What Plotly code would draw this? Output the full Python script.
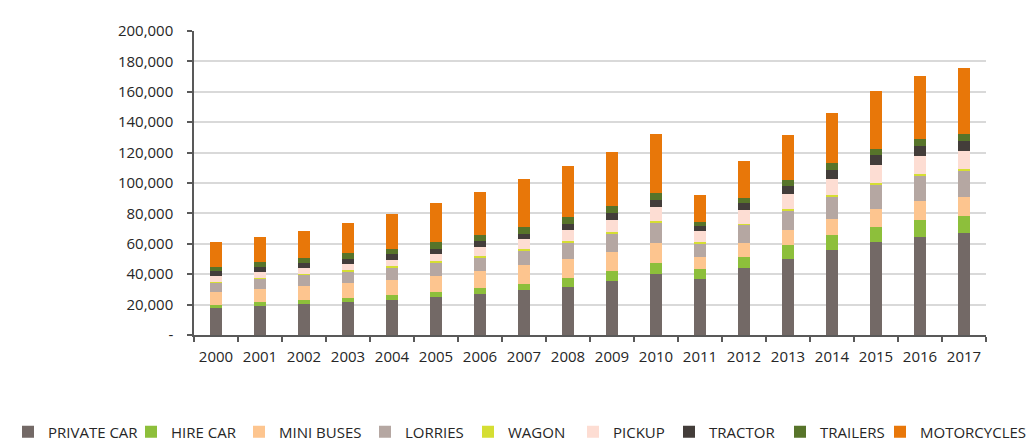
import plotly.graph_objects as go

# Registered vehicles by type, 2000-2017
years = [str(y) for y in range(2000, 2018)]

private_car = [17700, 19000, 20300, 21500, 22800, 24800, 26700, 29300, 31800,
               35700, 40200, 37000, 44200, 50000, 55800, 61000, 64200, 66800]
hire_car = [2300, 2500, 2700, 2800, 3700, 3800, 4000, 4500, 6000,
            6400, 7100, 6400, 6900, 9000, 9700, 10300, 11600, 11500]
mini_buses = [8200, 9000, 9300, 9700, 10000, 10500, 11400, 12000, 12000,
              12400, 13000, 7900, 9500, 9900, 10900, 11800, 12400, 12700]
lorries = [6400, 6500, 7200, 8100, 8000, 8800, 9200, 9800, 11000,
           12300, 13500, 8800, 11900, 13300, 14800, 16100, 16500, 17200]
wagon = [600, 600, 700, 700, 800, 800, 800, 800, 1000,
         1000, 1000, 800, 800, 1000, 1000, 1000, 1100, 1000]
pickup = [3300, 3700, 3700, 3600, 4300, 4800, 5900, 6800, 7100,
          7800, 9100, 7400, 8700, 9500, 10600, 11600, 12000, 12000]
tractor = [3400, 3200, 3400, 3400, 3600, 3400, 3600, 3400, 4300,
           4700, 4700, 3400, 4700, 5600, 5800, 6400, 6800, 6600]
trailers = [3000, 3400, 3200, 3900, 3700, 4300, 3900, 4500, 4500,
            4500, 5000, 2800, 3200, 3800, 4500, 3900, 4500, 4500]
motorcycles = [16300, 16900, 18200, 19700, 22500, 25500, 28900, 31500, 33400,
               35800, 38400, 17600, 24700, 29400, 33200, 38400, 41400, 43400]

series_names = ['PRIVATE CAR', 'HIRE CAR', 'MINI BUSES', 'LORRIES', 'WAGON',
                'PICKUP', 'TRACTOR', 'TRAILERS', 'MOTORCYCLES']
series_values = [private_car, hire_car, mini_buses, lorries, wagon,
                 pickup, tractor, trailers, motorcycles]

y_ticks = list(range(0, 200001, 20000))

# styling
colors = ['#736966', '#8DBF3B', '#FDC58F', '#B5A7A2', '#D5DE33',
          '#FDDDD3', '#433D3A', '#57742A', '#E87709']
FONT = 'Open Sans'
# the page body adds an 8px margin, so the figure is drawn 8px in from the window
W, H = 1020, 433
# where each legend label should start (px from the figure's left edge)
legend_text_px = [23, 164, 272, 398, 501, 606, 702, 813, 913]
LEGEND_TEXT_OFFSET = 41

fig = go.Figure()
legend_layouts = {}
for i, (name, vals, col) in enumerate(zip(series_names, series_values, colors)):
    key = 'legend' if i == 0 else f'legend{i + 1}'
    fig.add_trace(go.Bar(
        name=name,
        x=years,
        y=vals,
        marker_color=col,
        marker_line_width=0,
        legend=key,
        hovertemplate='<b>%{x}</b><br>' + name + ': %{y:,}<extra></extra>'
    ))
    legend_layouts[key] = dict(
        orientation='h',
        xref='container', yref='container',
        x=(legend_text_px[i] - LEGEND_TEXT_OFFSET) / W, xanchor='left',
        y=9 / H, yanchor='middle',
        itemwidth=30,
        bgcolor='rgba(0,0,0,0)',
        font=dict(family=FONT, size=15, color='#262626'),
    )

fig.update_layout(
    barmode='stack',
    bargap=0.727,
    width=W,
    height=H,
    margin=dict(l=186, r=42, t=16, b=106),
    plot_bgcolor='white',
    paper_bgcolor='white',
    font=dict(family=FONT, size=15, color='#262626'),
    showlegend=True,
    **legend_layouts,
)

fig.update_yaxes(
    range=[0, 200000],
    tickvals=y_ticks,
    ticktext=['-' if v == 0 else f'{v:,}' for v in y_ticks],
    showgrid=True, gridcolor='#D9D9D9', gridwidth=1.5,
    showline=True, linecolor='#595959', linewidth=1.5,
    ticks='outside', ticklen=5, tickcolor='#595959', tickwidth=1.5,
    ticklabelstandoff=11,
    zeroline=False,
)
fig.update_xaxes(
    showline=True, linecolor='#595959', linewidth=1.5,
    ticks='outside', ticklen=5, tickcolor='#595959', tickwidth=1.5,
    tickson='boundaries',
    tickangle=0,
    ticklabelstandoff=7,
    showgrid=False,
)

fig.write_html("out.html")
